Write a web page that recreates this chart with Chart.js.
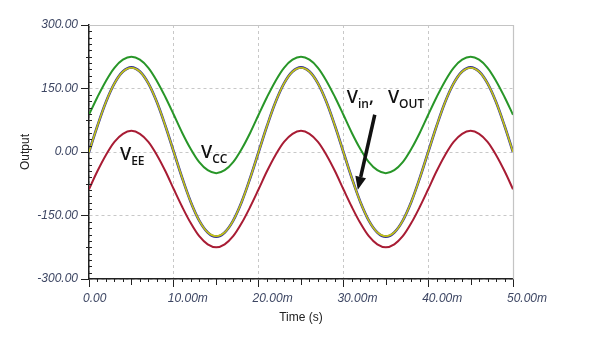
<!DOCTYPE html>
<html>
<head>
<meta charset="utf-8">
<script src="https://cdn.jsdelivr.net/npm/chart.js@4"></script>
<style>
  html, body { margin: 0; padding: 0; background: #fff; }
  #wrap { width: 590px; height: 352px; position: relative; }
</style>
</head>
<body>
<div id="wrap"><canvas id="scope"></canvas></div>
<script>
// time axis in ms, one sample per ms
const timeMs = [];
for (var t = 0; t <= 50; t++) timeMs.push(t);

// values
const vinValues = [
    0, 62, 118, 162, 190, 200, 190, 162, 118, 62,
    0, -62, -118, -162, -190, -200, -190, -162, -118, -62,
    0, 62, 118, 162, 190, 200, 190, 162, 118, 62,
    0, -62, -118, -162, -190, -200, -190, -162, -118, -62,
    0, 62, 118, 162, 190, 200, 190, 162, 118, 62,
    0
];
const voutValues = [
    0, 62, 118, 162, 190, 199, 190, 162, 118, 62,
    0, -62, -118, -162, -190, -199, -190, -162, -118, -62,
    0, 62, 118, 162, 190, 199, 190, 162, 118, 62,
    0, -62, -118, -162, -190, -199, -190, -162, -118, -62,
    0, 62, 118, 162, 190, 199, 190, 162, 118, 62,
    0
];
const vccValues = [
    88, 130, 168, 199, 218, 225, 218, 199, 168, 130,
    88, 45, 7, -24, -43, -50, -43, -24, 7, 45,
    88, 130, 168, 199, 218, 225, 218, 199, 168, 130,
    88, 45, 7, -24, -43, -50, -43, -24, 7, 45,
    88, 130, 168, 199, 218, 225, 218, 199, 168, 130,
    88
];
const veeValues = [
    -88, -45, -7, 24, 43, 50, 43, 24, -7, -45,
    -88, -130, -168, -199, -218, -225, -218, -199, -168, -130,
    -88, -45, -7, 24, 43, 50, 43, 24, -7, -45,
    -88, -130, -168, -199, -218, -225, -218, -199, -168, -130,
    -88, -45, -7, 24, 43, 50, 43, 24, -7, -45,
    -88
];

const xTickValues = [0, 10, 20, 30, 40, 50];
const xTickLabels = ["0.00", "10.00m", "20.00m", "30.00m", "40.00m", "50.00m"];
const yTickValues = [-300, -150, 0, 150, 300];
const yTickLabels = ["-300.00", "-150.00", "0.00", "150.00", "300.00"];

// text labels on the plot: [main, subscript, x(ms), y, ...]
const curveLabels = [
    ["V", "EE", 3.65, -19],
    ["V", "in", 30.4, 116, ",   V", "OUT"],
    ["V", "CC", 13.2, -14]
];
const arrowFrom = [33.7, 88];
const arrowTo = [31.7, -89];

const tickColor = "#3d4663";

function toPoints(vals) {
    return vals.map((v, i) => ({ x: timeMs[i], y: v }));
}

const extrasPlugin = {
    id: "extras",
    afterDraw(chart) {
        const ctx = chart.ctx;
        const area = chart.chartArea;
        const xs = chart.scales.x, ys = chart.scales.y;
        ctx.save();
        // frame top / right
        ctx.strokeStyle = "#c4c4c4";
        ctx.lineWidth = 1.2;
        ctx.beginPath();
        ctx.moveTo(area.left, area.top + 0.5);
        ctx.lineTo(area.right + 0.5, area.top + 0.5);
        ctx.lineTo(area.right + 0.5, area.bottom);
        ctx.stroke();

        // minor ticks
        ctx.strokeStyle = "#222";
        ctx.lineWidth = 1;
        ctx.beginPath();
        for (var m = 0; m <= 50; m++) {
            if (m % 10 === 0) continue;
            const px = Math.round(xs.getPixelForValue(m)) + 0.5;
            const len = m % 5 === 0 ? 6 : 3;
            ctx.moveTo(px, area.bottom);
            ctx.lineTo(px, area.bottom + len);
        }
        for (var v = -300; v <= 300; v += 15) {
            if (v % 150 === 0) continue;
            const py = Math.round(ys.getPixelForValue(v)) + 0.5;
            if (v % 75 === 0) {
                ctx.moveTo(area.left - 3, py);
                ctx.lineTo(area.left + 3, py);
            } else {
                ctx.moveTo(area.left, py);
                ctx.lineTo(area.left + 3, py);
            }
        }
        ctx.stroke();

        // curve names
        ctx.fillStyle = "#111";
        ctx.textBaseline = "alphabetic";
        curveLabels.forEach(lab => {
            var px = xs.getPixelForValue(lab[2]);
            const py = ys.getPixelForValue(lab[3]);
            const parts = [[lab[0], lab[1]]];
            if (lab[4]) parts.push([lab[4], lab[5]]);
            parts.forEach(p => {
                ctx.font = "600 18px 'Open Sans'";
                ctx.fillText(p[0], px, py);
                px += ctx.measureText(p[0]).width;
                ctx.font = "600 12px 'Open Sans'";
                ctx.fillText(p[1], px, py + 5);
                px += ctx.measureText(p[1]).width;
            });
        });

        // arrow
        const x1 = xs.getPixelForValue(arrowFrom[0]), y1 = ys.getPixelForValue(arrowFrom[1]);
        const x2 = xs.getPixelForValue(arrowTo[0]), y2 = ys.getPixelForValue(arrowTo[1]);
        const ang = Math.atan2(y2 - y1, x2 - x1);
        const head = 13, hw = 5.5;
        const bx = x2 - head * Math.cos(ang), by = y2 - head * Math.sin(ang);
        ctx.strokeStyle = "#111";
        ctx.lineWidth = 3.5;
        ctx.beginPath();
        ctx.moveTo(x1, y1);
        ctx.lineTo(bx, by);
        ctx.stroke();
        ctx.beginPath();
        ctx.moveTo(x2, y2);
        ctx.lineTo(bx + hw * Math.sin(ang), by - hw * Math.cos(ang));
        ctx.lineTo(bx - hw * Math.sin(ang), by + hw * Math.cos(ang));
        ctx.closePath();
        ctx.fill();
        ctx.restore();
    }
};

new Chart(document.getElementById("scope"), {
    type: "line",
    data: {
        datasets: [
            { label: "Vout", data: toPoints(voutValues), borderColor: "rgb(196, 196, 20)", borderWidth: 1.6 },
            { label: "Vin", data: toPoints(vinValues), borderColor: "rgb(50, 50, 150)", borderWidth: 2.6 },
            { label: "Vcc", data: toPoints(vccValues), borderColor: "rgb(40, 150, 40)", borderWidth: 2 },
            { label: "Vee", data: toPoints(veeValues), borderColor: "rgb(168, 28, 52)", borderWidth: 2 }
        ]
    },
    options: {
        responsive: true,
        maintainAspectRatio: false,
        animation: false,
        datasets: { line: { pointRadius: 0, tension: 0.35, fill: false } },
        layout: { padding: { left: 0, right: 77, top: 25, bottom: 0 } },
        plugins: { legend: { display: false }, tooltip: { enabled: false } },
        scales: {
            x: {
                type: "linear",
                min: 0,
                max: 50,
                afterBuildTicks: s => { s.ticks = xTickValues.map(v => ({ value: v })); },
                afterFit: s => { s.height = 73; },
                ticks: {
                    padding: 4,
                    align: "start",
                    labelOffset: -6,
                    maxRotation: 0,
                    color: tickColor,
                    font: { family: "Arial, 'Liberation Sans'", size: 12, style: "italic" },
                    callback: v => xTickLabels[xTickValues.indexOf(v)]
                },
                grid: { color: "#c8c8c8", tickColor: "#222", tickLength: 8, lineWidth: 1 },
                border: { color: "#222", width: 1.5, dash: [3, 3] },
                title: {
                    display: true,
                    text: "Time (s)",
                    color: "#222",
                    font: { family: "Arial, 'Liberation Sans'", size: 12 },
                    padding: { bottom: 27 }
                }
            },
            y: {
                min: -300,
                max: 300,
                afterBuildTicks: s => { s.ticks = yTickValues.map(v => ({ value: v })); },
                afterFit: s => { s.width = 89; },
                ticks: {
                    padding: 3,
                    color: tickColor,
                    font: { family: "Arial, 'Liberation Sans'", size: 12, style: "italic" },
                    callback: v => yTickLabels[yTickValues.indexOf(v)]
                },
                grid: { color: "#c8c8c8", tickColor: "#222", tickLength: 8, lineWidth: 1 },
                border: { color: "#222", width: 1.5, dash: [3, 3] },
                title: {
                    display: true,
                    text: "Output",
                    color: "#222",
                    font: { family: "Arial, 'Liberation Sans'", size: 12 },
                    padding: { top: 18 }
                }
            }
        }
    },
    plugins: [extrasPlugin]
});
</script>
</body>
</html>
